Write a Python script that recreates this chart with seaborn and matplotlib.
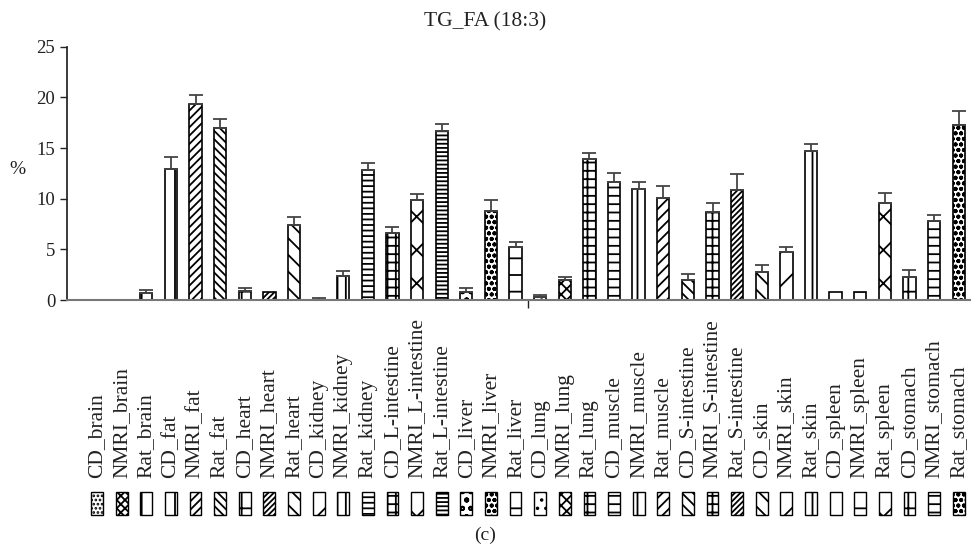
import numpy as np
import pandas as pd
import matplotlib
matplotlib.use("Agg")
import matplotlib.pyplot as plt
import matplotlib.transforms as mtransforms
from matplotlib.patches import Rectangle
import seaborn as sns

labels = ["CD_brain", "NMRI_brain", "Rat_brain", "CD_fat", "NMRI_fat", "Rat_fat",
          "CD_heart", "NMRI_heart", "Rat_heart", "CD_kidney", "NMRI_kidney", "Rat_kidney",
          "CD_L-intestine", "NMRI_L-intestine", "Rat_L-intestine", "CD_liver", "NMRI_liver",
          "Rat_liver", "CD_lung", "NMRI_lung", "Rat_lung", "CD_muscle", "NMRI_muscle",
          "Rat_muscle", "CD_S-intestine", "NMRI_S-intestine", "Rat_S-intestine", "CD_skin",
          "NMRI_skin", "Rat_skin", "CD_spleen", "NMRI_spleen", "Rat_spleen", "CD_stomach",
          "NMRI_stomach", "Rat_stomach"]
values = [0.0, 0.0, 0.7, 12.9, 19.3, 17.0,
          0.9, 0.8, 7.4, 0.05, 2.4, 12.8,
          6.6, 9.9, 16.7, 0.8, 8.8,
          5.2, 0.3, 2.0, 13.9, 11.6, 11.0,
          10.1, 2.0, 8.7, 10.9, 2.8,
          4.7, 14.7, 0.8, 0.8, 9.6, 2.3,
          7.8, 17.3]
errors = [0.0, 0.0, 0.3, 1.2, 0.95, 0.85,
          0.3, 0.0, 0.8, 0.15, 0.45, 0.7,
          0.65, 0.6, 0.7, 0.35, 1.05,
          0.5, 0.24, 0.26, 0.6, 0.9, 0.65,
          1.15, 0.56, 0.92, 1.5, 0.65,
          0.5, 0.7, 0.0, 0.0, 0.92, 0.7,
          0.56, 1.35]
hatches = ["....", "xxxx", "|", "|", "////", "\\\\\\\\",
           "+", "//////", "\\\\", "/", "||", "---",
           "++", "x", "----", "oo", "ooo",
           "-|", "..", "xxx", "++", "--", "||",
           "///", "\\\\\\", "++", "//////", "\\\\",
           "/", "||", "", "-", "x", "-|",
           "-+", "ooo"]

sns.set_theme(style="white")
plt.rcParams["font.family"] = ["Liberation Serif", "DejaVu Serif"]
plt.rcParams["hatch.linewidth"] = 1.3

df = pd.DataFrame({"label": labels, "value": values})

fig = plt.figure(figsize=(9.71, 5.5), dpi=100)
ax = fig.add_axes([0.069, 0.4545, 0.931, 0.4606])

sns.barplot(data=df, x="label", y="value", color="white", edgecolor="black",
            linewidth=1.2, width=0.5, errorbar=None, ax=ax)
for patch, h in zip(ax.patches, hatches):
    patch.set_facecolor("white")
    patch.set_hatch(h)

x = np.arange(len(labels))
err = np.array(errors)
has_err = err > 0
ax.errorbar(x[has_err], np.array(values)[has_err],
            yerr=[np.zeros(has_err.sum()), err[has_err]],
            fmt="none", ecolor="#444444", elinewidth=1.3, capsize=5, capthick=1.3)

ax.set_xlim(-1.22, 35.5)
ax.set_ylim(0, 25)
ax.set_yticks([0, 5, 10, 15, 20, 25])
ax.tick_params(axis="y", labelsize=13.5, length=5, width=1, direction="out", left=True, colors="#222222")
ax.set_xticks([17.5], [""])
ax.tick_params(axis="x", length=6, width=1, direction="out", bottom=True, colors="#222222")
ax.set_xlabel("")
ax.set_ylabel("%", rotation=0, fontsize=14, color="#222222", va="center")
ax.yaxis.set_label_coords(-0.055, 0.515)
for side in ["top", "right"]:
    ax.spines[side].set_visible(False)
ax.spines["left"].set_color("#222222")
ax.spines["bottom"].set_color("#777777")
ax.spines["bottom"].set_linewidth(1.5)

fig.text(0.5, 0.96, "TG_FA (18:3)", ha="center", va="center", fontsize=15.5, color="#222222")

# rotated labels and pattern swatches below the axis
trans = mtransforms.blended_transform_factory(ax.transData, fig.transFigure)
for i, (lab, h) in enumerate(zip(labels, hatches)):
    ax.text(i, 0.131, lab, rotation=90, ha="center", va="bottom", fontsize=15.5,
            color="#222222", transform=trans, clip_on=False)
    ax.add_patch(Rectangle((i - 0.24, 0.0636), 0.48, 0.042, transform=trans,
                           facecolor="white", edgecolor="black", linewidth=1.0,
                           hatch=h, clip_on=False))

fig.text(0.5, 0.027, "(c)", ha="center", va="center", fontsize=14, color="#222222")

fig.savefig("out.png", dpi=100)
